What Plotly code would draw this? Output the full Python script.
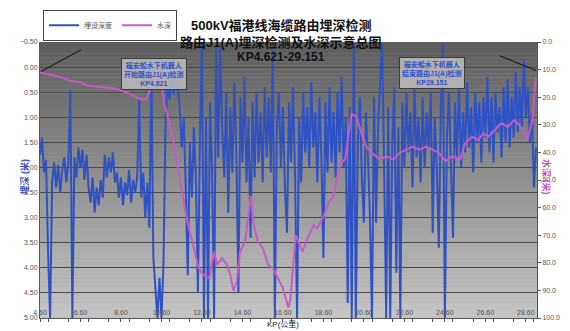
import plotly.graph_objects as go

# Burial depth survey (metres below seabed), one station every 0.1 km from KP4.6
kp_start = 4.6
kp_step = 0.1
burial = [
    1.75, 1.40, 2.10, 1.85, 3.70, 5.00, 2.30, 1.90, 2.40, 1.95,
    2.50, 2.05, 1.80, 2.30, 1.90, 0.45, 5.00, 1.80, 2.20, 1.60,
    2.00, 1.65, 2.25, 1.75, 2.40, 2.70, 2.20, 2.90, 2.40, 2.75,
    2.25, 2.60, 1.75, 2.20, 1.80, 2.10, 1.70, 2.30, 2.10, 2.60,
    2.20, 2.75, 2.30, 2.55, 2.05, 2.70, 2.25, 2.50, 2.20, 0.65,
    2.60, 2.10, 3.00, 2.30, 3.20, 0.05, 3.80, 4.50, 5.00, 4.20,
    5.00, 3.90, 1.10, 0.30, 0.65, 0.10, 0.55, 0.00, 0.45, 0.80,
    1.60, 1.00, 2.40, 4.15, 1.50, 2.60, 1.20, 2.20, 4.50, 1.40,
    -0.50, 5.00, 1.00, 5.00, 0.70, 2.00, 5.00, -0.40, 1.80, -0.40,
    1.20, 2.20, 0.50, 2.90, 0.80, 2.10, 0.30, 1.70, 4.50, 0.60,
    1.90, 0.20, 2.30, 1.00, 3.40, 0.70, 2.20, 0.50, 1.90, 0.90,
    2.30, 0.40, 1.80, 0.60, 2.10, -0.35, 5.00, 1.20, 0.50, 2.00,
    0.80, 2.40, 3.30, 0.70, 1.90, 0.40, 2.20, 5.00, 1.00, 2.30,
    0.50, 1.70, 0.80, 2.00, 0.30, 1.60, 0.90, 2.30, 0.60, 1.80,
    3.80, 0.70, 2.10, 0.40, 1.90, 0.90, 2.20, 0.50, 1.70, 0.20,
    2.00, 1.00, 4.70, 0.80, 5.00, -0.48, 5.00, 1.50, 0.60, 2.20,
    3.10, 0.90, 1.80, 3.00, 5.00, 0.60, 3.10, 1.20, 0.30, -0.48,
    2.00, 5.00, 0.80, 5.00, 1.50, 0.40, 4.10, 1.20, 5.00, 0.70,
    2.00, 0.50, 1.70, 0.90, 2.40, 0.40, 1.80, 1.00, 2.30, 0.60,
    2.00, 0.90, 1.60, 0.50, 3.30, 1.00, 2.00, 3.60, 0.80, -0.48,
    5.00, 1.40, 0.50, 2.10, 3.40, 0.70, 1.80, 0.40, 2.00, 0.90,
    1.70, 0.30, 1.60, 0.80, 2.10, 0.50, 1.50, 0.70, 1.90, 0.60,
    1.40, 0.20, 1.70, 0.60, 1.90, 0.50, 1.30, 0.80, 1.80, 0.40,
    1.50, 0.25, 1.60, 0.60, 1.40, 0.10, 1.30, 0.40, 1.20, -0.15,
    1.00, 0.40, 1.50, 0.90, 2.40, 1.60,
]
kp_burial = [round(kp_start + i * kp_step, 2) for i in range(len(burial))]

# Water depth along the route (metres)
kp_water = [
    4.60, 4.99, 5.31, 5.72, 6.12, 6.61, 6.93, 7.34, 7.74, 8.15,
    8.39, 8.72, 9.04, 9.36, 9.69, 9.85, 10.09, 10.30, 10.42, 10.53,
    10.74, 10.99, 11.15, 11.31, 11.47, 11.63, 11.79, 11.96, 12.12, 12.28,
    12.44, 12.60, 12.77, 12.96, 13.19, 13.35, 13.59, 13.84, 14.00, 14.16,
    14.32, 14.48, 14.73, 15.02, 15.13, 15.37, 15.62, 15.86, 16.10, 16.35,
    16.59, 16.87, 16.96, 17.24, 17.56, 17.81, 18.13, 18.29, 18.62, 18.86,
    19.10, 19.43, 19.67, 19.83, 19.99, 20.24, 20.48, 20.72, 20.98, 21.13,
    21.39, 21.71, 22.04, 22.36, 22.68, 23.01, 23.33, 23.66, 23.98, 24.31,
    24.63, 24.95, 25.36, 25.60, 25.93, 26.25, 26.49, 26.74, 27.06, 27.38,
    27.71, 28.03, 28.36, 28.68, 28.92, 29.09,
]
water = [
    11.0, 11.7, 12.3, 12.9, 14.1, 14.6, 15.8, 16.2, 16.4, 16.7,
    17.0, 17.9, 18.8, 20.0, 21.0, 20.6, 16.4, 12.3, 10.8, 11.7,
    22.4, 29.5, 34.3, 41.4, 48.6, 55.7, 61.7, 67.6, 72.4, 77.1,
    81.9, 83.7, 84.9, 85.5, 76.0, 80.7, 78.3, 80.7, 84.3, 90.2,
    86.7, 76.0, 72.4, 55.7, 65.2, 72.4, 74.8, 80.7, 81.9, 85.5,
    89.0, 96.2, 93.8, 70.0, 76.0, 71.2, 66.4, 67.6, 62.9, 58.1,
    55.7, 43.8, 42.6, 34.3, 26.0, 27.1, 33.1, 37.9, 40.2, 41.0,
    42.6, 41.4, 42.6, 40.2, 39.0, 37.9, 39.0, 37.9, 39.0, 40.2,
    43.2, 41.4, 42.6, 36.7, 34.3, 35.5, 33.1, 34.3, 31.9, 29.5,
    30.7, 28.3, 30.7, 35.5, 28.3, 12.9,
]

KP_MIN, KP_MAX = 4.6, 29.15
BLUE = "#2f52c2"
PINK = "#c85ac8"
TXT = "Liberation Sans, Noto Sans CJK SC, sans-serif"

fig = go.Figure()
fig.add_trace(go.Scatter(
    x=kp_burial, y=burial, name="埋设深度", mode="lines",
    line=dict(color=BLUE, width=2), yaxis="y",
))
fig.add_trace(go.Scatter(
    x=kp_water, y=water, name="水深", mode="lines",
    line=dict(color=PINK, width=2), yaxis="y2",
))

# vertical grey gradient behind the plot area
shapes = []
n_bands = 70
top_rgb, bot_rgb = (92, 92, 92), (198, 198, 198)
for k in range(n_bands):
    t = (k + 0.5) / n_bands  # 0 at bottom, 1 at top
    c = [round(bot_rgb[j] + (top_rgb[j] - bot_rgb[j]) * t) for j in range(3)]
    shapes.append(dict(
        type="rect", xref="paper", yref="paper", layer="below",
        x0=0, x1=1, y0=k / n_bands, y1=(k + 1.02) / n_bands,
        fillcolor=f"rgb({c[0]},{c[1]},{c[2]})", line=dict(width=0),
    ))

# leader lines from the callouts to the route ends
shapes.append(dict(type="line", xref="paper", yref="paper",
                   x0=0.083, y0=0.972, x1=0.002, y1=0.893,
                   line=dict(color="#111", width=1)))
shapes.append(dict(type="line", xref="paper", yref="paper",
                   x0=0.925, y0=0.950, x1=0.998, y1=0.897,
                   line=dict(color="#111", width=1)))

box_style = dict(
    xref="paper", yref="paper", showarrow=False,
    font=dict(family=TXT, size=7, color="#3050c8"),
    bgcolor="rgba(188,188,188,0.85)", bordercolor="#3c3c3c",
    borderwidth=1, borderpad=2, align="center",
)

annotations = [
    dict(x=0.485, y=1.0925, xref="paper", yref="paper", showarrow=False,
         text="<b>500kV福港线海缆路由埋深检测</b>",
         font=dict(family=TXT, size=13, color="#111")),
    dict(x=0.485, y=1.032, xref="paper", yref="paper", showarrow=False,
         text="<b>路由J1(A)埋深检测及水深示意总图</b>",
         font=dict(family=TXT, size=13, color="#111")),
    dict(x=0.485, y=0.979, xref="paper", yref="paper", showarrow=False,
         text="<b>KP4.621-29.151</b>",
         font=dict(family=TXT, size=12, color="#111")),
    dict(x=0.162, y=0.943,
         text="<b>福安船水下机器人<br>开始路由J1(A)检测<br>KP4.621</b>",
         **box_style),
    dict(x=0.855, y=0.945,
         text="<b>福安船水下机器人<br>结束路由J1(A)检测<br>KP29.151</b>",
         **box_style),
    dict(x=-0.0455, y=0.512, xref="paper", yref="paper", showarrow=False,
         text="<b>埋深 (米)</b>", textangle=-90,
         font=dict(family=TXT, size=9, color="#3a4fc0")),
    dict(x=1.034, y=0.509, xref="paper", yref="paper", showarrow=False,
         text="<b>水深 (米)</b>", textangle=90,
         font=dict(family=TXT, size=9, color="#c050c0")),
    dict(x=0.489, y=-0.025, xref="paper", yref="paper", showarrow=False,
         text="KP(公里)", yanchor="middle",
         font=dict(family=TXT, size=8, color="#222")),
]

tick_font = dict(family=TXT, size=7, color="#555")

fig.update_layout(
    width=570, height=331,
    margin=dict(l=40, r=25, t=40, b=10),
    paper_bgcolor="white", plot_bgcolor="#9a9a9a",
    shapes=shapes, annotations=annotations,
    showlegend=True,
    legend=dict(
        orientation="h", x=0.006, y=1.117, xanchor="left", yanchor="top",
        bgcolor="white", bordercolor="#444", borderwidth=1,
        font=dict(family=TXT, size=7, color="#555"),
        itemwidth=30, tracegroupgap=0,
    ),
    xaxis=dict(
        range=[KP_MIN, KP_MAX], tick0=4.6, dtick=2, tickformat=".2f",
        ticklabelposition="inside", ticklabeloverflow="allow",
        ticks="outside", ticklen=3, tickcolor="#555",
        minor=dict(dtick=1, ticks="outside", ticklen=3, tickcolor="#555"),
        showgrid=False, zeroline=False,
        showline=True, linecolor="#555", linewidth=1,
        tickfont=tick_font,
    ),
    yaxis=dict(
        range=[5.0, -0.5], tick0=-0.5, dtick=0.5, tickformat=".2f",
        showgrid=True, gridcolor="#4a4a4a", gridwidth=1,
        zeroline=False, showline=True, linecolor="#555", linewidth=1,
        ticks="", tickfont=tick_font,
    ),
    yaxis2=dict(
        range=[100, 0], tick0=0, dtick=10, tickformat=".1f",
        overlaying="y", side="right", showgrid=False, zeroline=False,
        showline=True, linecolor="#555", linewidth=1,
        ticks="outside", ticklen=3, tickcolor="#555", tickfont=tick_font,
    ),
)

fig.write_html("out.html")
